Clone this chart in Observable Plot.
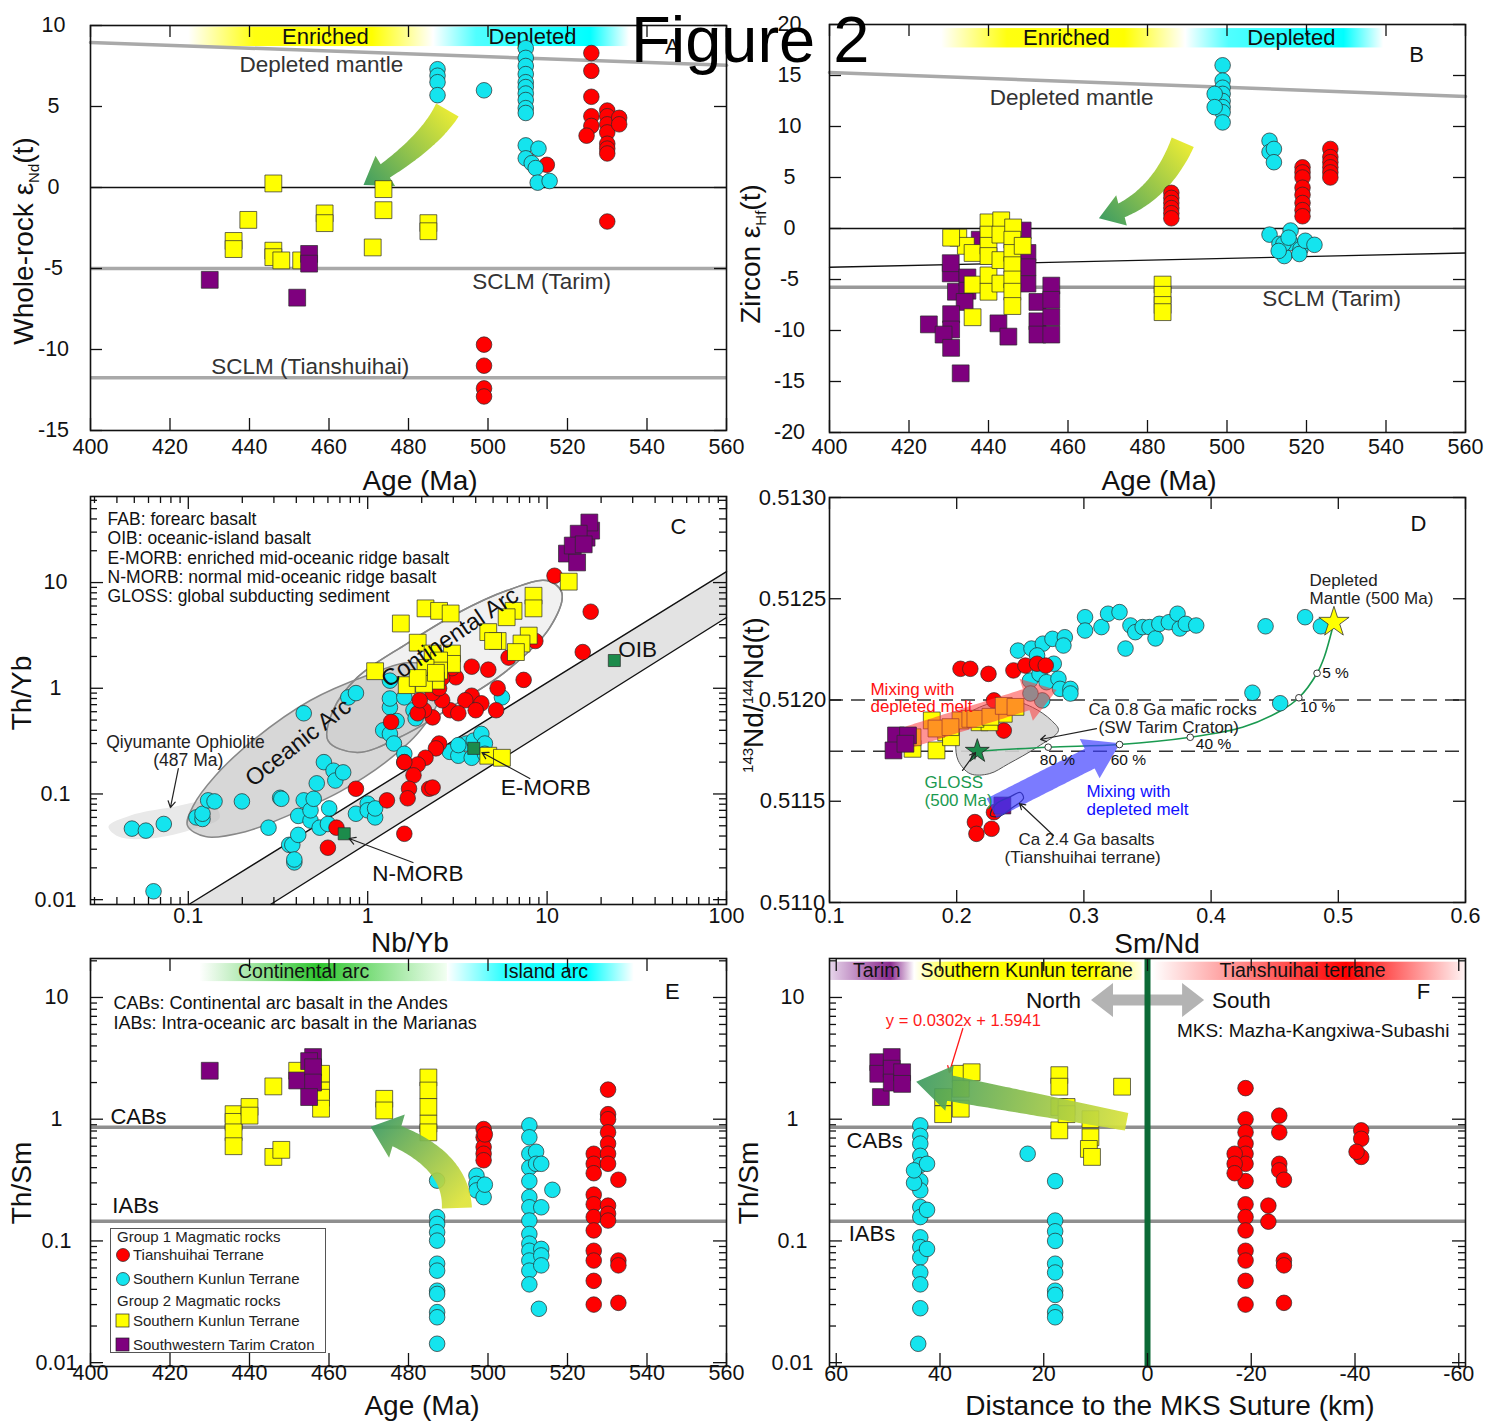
<!DOCTYPE html>
<html><head><meta charset="utf-8">
<script src="https://cdn.jsdelivr.net/npm/d3@7"></script>
<script src="https://cdn.jsdelivr.net/npm/@observablehq/plot@0.6"></script>
<style>
html,body{margin:0;padding:0;background:#fff;}
#fig{position:relative;width:1491px;height:1421px;overflow:hidden;background:#fff;font-family:"Liberation Sans",Arial,Helvetica,sans-serif;}
.panel{position:absolute;}
.panel svg{display:block;}
#overlay{position:absolute;left:0;top:0;pointer-events:none;}
#legendE{position:absolute;left:110px;top:1228px;width:214px;height:123px;border:1px solid #555;background:#fff;}
</style></head><body>
<svg width="0" height="0" style="position:absolute"><defs>
<linearGradient id="gEnr" x1="0" x2="1" y1="0" y2="0"><stop offset="0" stop-color="#ffffff"/><stop offset="0.27" stop-color="#ffff10"/><stop offset="0.75" stop-color="#ffff00"/><stop offset="1" stop-color="#ffffff"/></linearGradient>
<linearGradient id="gDep" x1="0" x2="1" y1="0" y2="0"><stop offset="0" stop-color="#ffffff"/><stop offset="0.22" stop-color="#50ffff"/><stop offset="0.8" stop-color="#00ffff"/><stop offset="1" stop-color="#ffffff"/></linearGradient>
<linearGradient id="gCont" x1="0" x2="1" y1="0" y2="0"><stop offset="0" stop-color="#ffffff"/><stop offset="0.48" stop-color="#2ec62e"/><stop offset="1" stop-color="#f2fff2"/></linearGradient>
<linearGradient id="gIsl" x1="0" x2="1" y1="0" y2="0"><stop offset="0" stop-color="#ffffff"/><stop offset="0.3" stop-color="#30ffff"/><stop offset="0.75" stop-color="#00ffff"/><stop offset="1" stop-color="#ffffff"/></linearGradient>
<linearGradient id="gTar" x1="0" x2="1" y1="0" y2="0"><stop offset="0" stop-color="#e8d8ec"/><stop offset="0.72" stop-color="#8a2a8e"/><stop offset="1" stop-color="#ffffff"/></linearGradient>
<linearGradient id="gSK" x1="0" x2="1" y1="0" y2="0"><stop offset="0" stop-color="#ffffff"/><stop offset="0.2" stop-color="#ffff00"/><stop offset="0.8" stop-color="#ffff00"/><stop offset="1" stop-color="#ffffe8"/></linearGradient>
<linearGradient id="gTian" x1="0" x2="1" y1="0" y2="0"><stop offset="0" stop-color="#ffffff"/><stop offset="0.62" stop-color="#ff0000"/><stop offset="1" stop-color="#fff4f4"/></linearGradient>
</defs></svg>
<div id="fig"></div>
<script>
const NS = "http://www.w3.org/2000/svg";
const CYAN="#14e4ee", RED="#ff0000", YEL="#ffff00", PUR="#7e007e", GRN="#1c8b4b", GREYLINE="#a9a9a9";
const FONT='"Liberation Sans", Arial, Helvetica, sans-serif';

// ================= PANEL A : Age vs whole-rock eNd(t) =================
const aXT=[400,420,440,460,480,500,520,540,560], aXL=["400","420","440","460","480","500","520","540","560"];
const aYT=[-15,-10,-5,0,5,10], aYL=["-15","-10","-5","0","5","10"];
const aCyan=[[487.3,7.3],[487.3,6.9],[487.3,6.5],[487.3,5.7],[499,6.0],
 [509.5,8.6],[509.5,8.0],[509.5,7.5],[509.5,7.0],[509.5,6.5],[509.5,6.2],[509.5,5.8],[509.5,5.4],[509.5,4.9],[509.5,4.6],
 [509.5,2.6],[512.7,2.4],[509.5,1.8],[511,1.5],[512,1.2],[512.5,0.3],[515.5,0.4]];
const aRed=[[526,8.3],[526,7.2],[526,5.6],[526,4.4],[526,3.8],[524.8,3.2],
 [530,4.75],[530,4.4],[530,3.9],[530,3.4],[530,2.7],[530,2.4],[530,2.1],[533,4.3],[533,3.9],
 [514.8,1.4],[530,-2.1],[499,-9.7],[499,-11.0],[499,-12.4],[499,-12.9]];
const aYellow=[[446,0.25],[473.7,-0.1],[473.7,-1.4],[439.7,-2.0],[458.9,-1.6],[458.9,-2.2],
 [436,-3.3],[436,-3.8],[446,-3.9],[446,-4.3],[448,-4.5],[453,-4.5],[471,-3.7],[485,-2.2],[485,-2.7]];
const aPurple=[[430,-5.7],[452,-6.8],[455,-4.1],[455,-4.7]];
const aDM=[[400,8.95],[560,7.55]];
const aGreyLevels=[-5.0,-11.75];
const aZero=[0];
const aBands=[[424.7,486.3,"gEnr"],[486.3,535.6,"gDep"]], aBandY=[8.7,9.9];
const aBandText=[["Enriched",459.1,9.3],["Depleted",511.2,9.3]];
const aLabels=[["Depleted mantle",458.1,7.6],["SCLM (Tarim)",513.5,-5.8],["SCLM (Tianshuihai)",455.3,-11.05]];
const aLetter=[["A",546.4,8.7]];
const aArrow={from:[489.9,4.75],via:[484.8,2.53],to:[468.8,0.12],w0:26,w1:16,head:36,hl:26,c0:"#e6ea36",c1:"#3f9d62"};

// ================= PANEL B : Age vs zircon eHf(t) =================
const bYT=[-20,-15,-10,-5,0,5,10,15,20], bYL=["-20","-15","-10","-5","0","5","10","15","20"];
const bCyan=[[498.9,16.0],[498.9,14.5],[498.9,13.8],[498.9,13.2],[498.9,12.5],[498.9,11.9],[498.9,11.4],[498.9,10.4],[496.9,13.2],[496.9,11.9],
 [510.7,8.6],[510.7,7.5],[511.8,7.8],[511.8,6.5],
 [510.7,-0.6],[513.2,-1.5],[514.4,-2.7],[516,-0.2],[516,-1.4],[518.5,-2.0],[518.2,-2.5],[519.7,-1.2],[522,-1.6],[514.2,-1.5],[513,-2.2],[515.5,-0.9]];
const bRed=[[486,3.5],[486,3.0],[486,2.5],[486,2.0],[486,1.5],[486,1.0],
 [519,6.0],[519,5.5],[519,5.0],[519,4.0],[519,3.3],[519,2.5],[519,1.8],[519,1.2],
 [526,7.8],[526,7.0],[526,6.5],[526,6.0],[526,5.5],[526,5.0]];
const bPurple=[[430.5,-4.4],[430.5,-3.4],[431.8,-6.2],[434.7,-4.8],[434.7,-6.1],[434,-7.2],[430.6,-8.4],[430.6,-9.9],[425,-9.4],[428.7,-10.4],[430.6,-11.7],[433,-14.2],
 [442.5,-9.3],[445,-10.6],[449.8,-2.4],[449.8,-5.4],[449.8,-3.8],[452.3,-7.2],[452.3,-9.1],[452.3,-10.4],[455.8,-5.6],[455.8,-7.0],[455.8,-8.7],[455.8,-10.4],[437.8,-1.1],[448.6,-0.2]];
const bYellow=[[483.8,-5.5],[483.8,-6.5],[483.8,-7.5],[483.8,-8.2],
 [432.4,-0.9],[434.3,-1.7],[436,-2.4],[436,-8.7],[436,-5.5],[440,0.6],[440,-0.6],[440,-1.7],[440,-2.7],[440,-4.6],[440,-6.2],
 [443.2,0.8],[443,-0.6],[443,-3.1],[443,-5.4],[446.2,0.1],[446,-1.1],[446,-2.4],[446,-3.6],[446,-5.0],[446,-6.2],[446,-7.6],[448.6,-1.7],[430.6,-0.9]];
const bDM=[[400,15.3],[560,12.95]];
const bTrend=[[400,-3.8],[560,-2.4]];
const bGreyLevels=[-5.75];
const bZero=[0];
const bBands=[[428.2,489.6,"gEnr"],[489.6,539.4,"gDep"]], bBandY=[17.7,19.6];
const bBandText=[["Enriched",459.6,18.65],["Depleted",516.2,18.65]];
const bLabels=[["Depleted mantle",460.9,12.84],["SCLM (Tarim)",526.3,-6.86]];
const bLetter=[["B",547.7,17.06]];
const bArrow={from:[489,8.4],via:[482.5,2.35],to:[467.9,0.95],w0:24,w1:15,head:32,hl:24,c0:"#e6ea36",c1:"#3f9d62"};

// ================= PANEL C : Nb/Yb vs Th/Yb =================
const cXT=[0.1,1,10,100], cXL=["0.1","1","10","100"];
const cYT=[0.01,0.1,1,10], cYL=["0.01","0.1","1","10"];
const cPurple=[[12.9,18.8],[14.7,15.5],[16.6,26.6],[17.6,31],[17.2,37],[15,29],[13.9,22.4],[16,23]];
const cRed=[[11.0,11.6],[17.5,5.3],[15.8,2.2],[8.6,2.8],[7.4,1.2],[6.1,1.95],[5.3,1.0],[4.7,1.5],[3.8,1.6],[3.1,1.27],[2.95,1.55],[3.8,0.85],[4.3,0.72],[3.5,0.77],
 [2.88,0.62],[3.2,0.58],[2.6,0.77],[2.3,0.9],[2.5,1.0],[2.6,1.25],[2.3,0.53],[2.06,0.62],[1.9,0.58],[1.95,0.77],[5.2,0.62],[4.0,0.62],[1.35,0.48],[2.5,0.30],
 [2.4,0.27],[2.1,0.22],[1.9,0.19],[1.6,0.2],[1.8,0.15],[2.2,0.112],[2.3,0.115],[1.7,0.112],[1.67,0.091],[1.28,0.087],[0.86,0.112],[1.6,0.042],[0.67,0.048],[0.6,0.031]];
const cYellow=[[13.2,10.2],[8.4,7.5],[8.4,5.7],[6.5,5.4],[5.95,4.7],[2.1,5.7],[2.5,5.4],[2.9,5.1],[1.53,4.1],[4.7,3.4],[5.3,2.8],[5.0,2.8],[7.9,3.15],[7.2,2.65],[6.7,2.2],
 [1.9,2.7],[2.95,2.13],[2.95,1.7],[2.3,2.13],[2.5,1.83],[2.5,1.47],[2.1,1.56],[2.4,1.18],[1.1,1.45],[1.65,1.07],[2.06,1.1],[2.4,1.4],[1.9,1.25],[4.7,0.23],[5.6,0.22]];
const cCyan=[[0.064,0.012],[0.0485,0.047],[0.058,0.045],[0.073,0.052],[0.111,0.06],[0.12,0.058],[0.12,0.065],[0.129,0.087],[0.14,0.085],[0.199,0.085],[0.325,0.092],[0.33,0.09],
 [0.28,0.048],[0.365,0.033],[0.38,0.033],[0.39,0.0225],[0.39,0.024],[0.41,0.041],[0.41,0.062],[0.44,0.087],[0.48,0.056],[0.48,0.07],[0.5,0.09],[0.52,0.126],[0.57,0.2],
 [0.44,0.58],[0.54,0.048],[0.6,0.052],[0.61,0.073],[0.645,0.166],[0.66,0.134],[0.73,0.16],[0.78,0.82],[0.86,0.9],[0.86,0.065],[1.0,0.081],[1.0,0.07],[1.1,0.06],[1.1,0.073],
 [1.33,0.66],[1.33,0.8],[1.33,1.18],[1.45,0.49],[1.6,0.82],[1.8,0.62],[1.85,0.52],[1.22,0.4],[1.33,0.37],[1.4,0.3],[1.6,0.24],[1.6,0.2],
 [2.87,0.25],[3.2,0.23],[3.55,0.3],[3.9,0.32],[4.3,0.37],[4.5,0.3],[3.8,0.22],[4.5,0.24],[3.2,0.29],[5.6,0.82]];
const cRef=[[0.74,0.042],[3.9,0.27],[23.7,1.83]]; // N-MORB, E-MORB, OIB
const cArrayPoly=[[0.1007,0.009],[100,12.7],[100,4.67],[0.287,0.009]];
const cArrayTop=[[0.1007,0.009],[100,12.7]], cArrayBot=[[0.287,0.009],[100,4.67]];
const cOceanic=[[0.0989,0.0502],[0.1245,0.0395],[0.208,0.044],[0.370,0.0638],[0.701,0.1054],[1.25,0.198],[1.96,0.398],[2.53,0.853],[2.43,1.47],[1.72,1.75],[0.99,1.32],[0.478,0.766],[0.236,0.334],[0.1416,0.149],[0.1067,0.0776]];
const cContinental=[[0.601,0.320],[0.873,0.2466],[1.656,0.3727],[3.14,0.717],[5.97,1.47],[10.35,3.75],[12.07,8.04],[9.95,10.44],[5.97,8.4],[3.14,5.1],[1.656,2.65],[0.873,1.26],[0.641,0.615]];
const cOphiolite=[[0.0359,0.0492],[0.0476,0.0625],[0.0795,0.0743],[0.1327,0.083],[0.15,0.06],[0.1094,0.0471],[0.0615,0.0379],[0.0408,0.0395]];
const cNotes=["FAB: forearc basalt","OIB: oceanic-island basalt","E-MORB: enriched mid-oceanic ridge basalt","N-MORB: normal mid-oceanic ridge basalt","GLOSS: global subducting sediment"];
const cNotesY=[39.4,26.1,16.9,11.1,7.38];
const cLabels=[["Qiyumante Ophiolite",0.0964,0.306],["(487 Ma)",0.1,0.207],["OIB",31.96,2.32],["E-MORB",9.83,0.115],["N-MORB",1.906,0.01766]];
const cRotLabels=[["Oceanic Arc",0.41,0.306,-38],["Continental Arc",2.87,3.02,-34]];
const cLetter=[["C",54.0,33.9]];
const cThinArrows=[[0.088,0.174,0.0795,0.0743],[8.01,0.14,4.33,0.2466],[1.788,0.02244,0.7875,0.0379]];

// ================= PANEL D : Sm/Nd vs 143Nd/144Nd(t) =================
const dXT=[0.1,0.2,0.3,0.4,0.5,0.6], dXL=["0.1","0.2","0.3","0.4","0.5","0.6"];
const dYT=[0.511,0.5115,0.512,0.5125,0.513], dYL=["0.5110","0.5115","0.5120","0.5125","0.5130"];
const dCyan=[[0.3009,0.512409],[0.3009,0.512343],[0.3138,0.512360],[0.3190,0.512426],[0.3280,0.512434],[0.3327,0.512254],[0.3366,0.512368],[0.3404,0.512335],
 [0.3462,0.512360],[0.3516,0.512360],[0.3563,0.512304],[0.3593,0.512376],[0.3668,0.512384],[0.3736,0.512426],[0.3754,0.512353],[0.3801,0.512376],[0.3883,0.512368],
 [0.4428,0.512364],[0.4739,0.512409],[0.4863,0.512364],[0.4325,0.512036],[0.4543,0.511984],[0.2482,0.512244],[0.2588,0.512254],[0.2677,0.512278],[0.2753,0.512302],
 [0.2850,0.512310],[0.2839,0.512269],[0.2632,0.512220],[0.2576,0.512096],[0.2651,0.512129],[0.2706,0.512088],[0.2800,0.512105],[0.2812,0.512055],[0.2894,0.512055],
 [0.2763,0.512179],[0.2894,0.512032],[0.2672,0.511998],[0.258,0.512032]];
const dRed=[[0.2030,0.512154],[0.2107,0.512154],[0.2250,0.512129],[0.2446,0.512146],[0.2540,0.512170],[0.2632,0.512179],[0.2700,0.512170],[0.2293,0.511998],[0.2370,0.511849],
 [0.2143,0.511397],[0.2155,0.511339],[0.2274,0.511364],[0.2293,0.511446]];
const dYellow=[[0.1653,0.511759],[0.1841,0.511751],[0.1804,0.511899],[0.1917,0.511841],[0.1955,0.511816],[0.2030,0.511899],[0.2107,0.511907],[0.2180,0.511890],
 [0.2258,0.511890],[0.2370,0.511932],[0.1653,0.511816],[0.1841,0.511859],[0.1951,0.511866],[0.2147,0.511907],[0.2265,0.511917],[0.2370,0.511971],[0.2462,0.511966]];
const dPurple=[[0.1523,0.511825],[0.1617,0.511825],[0.1503,0.511751],[0.1597,0.511784],[0.2359,0.511479]];
const dGloss=[[0.2162,0.511747]], dDMstar=[[0.4966,0.512384]];
const dCurve=[[0.2162,0.511747],[0.2719,0.511767],[0.3280,0.511780],[0.3836,0.511816],[0.4247,0.511865],[0.455,0.511948],[0.469,0.512011],[0.4833,0.512132],[0.4889,0.512211],[0.4966,0.512384]];
const dPct=[[0.2719,0.511767],[0.3280,0.511780],[0.3836,0.511816],[0.469,0.512011],[0.4833,0.512132]];
const dPctLabels=[["80 %",0.2792,0.511706],["60 %",0.335,0.511706],["40 %",0.4019,0.511785],["10 %",0.4837,0.511963],["5 %",0.4978,0.512131]];
const dDash=[0.512,0.511747];
const dField08=[[0.1993,0.511784],[0.2030,0.511899],[0.2179,0.511964],[0.2407,0.511998],[0.2595,0.511964],[0.2745,0.511899],[0.2800,0.511849],[0.2632,0.511767],[0.2407,0.511685],[0.2256,0.511636],[0.2106,0.511636],[0.2012,0.511701]];
const dField24=[[0.2266,0.511430],[0.2305,0.511484],[0.2423,0.511523],[0.2502,0.511543],[0.2525,0.511514],[0.2439,0.511469],[0.2329,0.511425]];
const dTextDark=[["Depleted",0.4774,0.51259],["Mantle (500 Ma)",0.4774,0.512501],["Ca 0.8 Ga mafic rocks",0.3036,0.511953],["(SW Tarim Craton)",0.3115,0.511864],["Ca 2.4 Ga basalts",0.2486,0.511311],["(Tianshuihai terrane)",0.2376,0.511222]];
const dTextRed=[["Mixing with",0.1322,0.512052],["depleted melt",0.1322,0.511968]];
const dTextBlue=[["Mixing with",0.302,0.511548],["depleted melt",0.302,0.511459]];
const dTextGreen=[["GLOSS",0.1747,0.511593],["(500 Ma)",0.1747,0.511504]];
const dLetter=[["D",0.563,0.512867]];
const dThinArrows=[[0.3099,0.511859,0.2659,0.511805],[0.2046,0.511652,0.2148,0.511741],[0.2761,0.511331,0.2494,0.511489]];
const dRedArrow={from:[0.158,0.511805],to:[0.279,0.512047],w0:22,w1:22,head:44,hl:32,fill:"#ff3c3c",opacity:0.55};
const dBlueArrow={from:[0.2279,0.511463],to:[0.3288,0.511784],w0:22,w1:22,head:44,hl:34,fill:"#3c3cff",opacity:0.68};

// ================= PANEL E : Age vs Th/Sm =================
const eYT=[0.01,0.1,1,10], eYL=["0.01","0.1","1","10"];
const eYellow=[[436,1.1],[436,0.95],[436,0.78],[436,0.6],[440,1.26],[440,1.07],[446,1.86],[446,0.49],[448,0.56],[458,2.36],[458,1.72],[458,1.5],[458,1.22],[452,2.5],
 [473.9,1.47],[473.9,1.18],[485,2.2],[485,1.72],[485,1.26],[485,0.92],[485,0.78]];
const ePurple=[[430,2.5],[452,2.08],[456,3.24],[455,3.0],[456,2.67],[456,2.0],[455,1.52]];
const eCyan=[[487.2,0.313],[487.2,0.157],[487.2,0.138],[487.2,0.118],[487.2,0.1006],[487.2,0.065],[487.2,0.057],[487.2,0.039],[487.2,0.0367],[487.2,0.026],[487.2,0.0236],[487.2,0.0143],
 [497.1,0.344],[497.1,0.294],[497.1,0.26],[498.9,0.229],[499.2,0.29],
 [510.4,0.89],[510.4,0.71],[510.4,0.52],[510.4,0.40],[510.4,0.31],[510.4,0.229],[510.4,0.189],[510.4,0.147],[510.4,0.114],[510.4,0.095],[510.4,0.083],[510.4,0.069],[510.4,0.057],[510.4,0.044],
 [512.1,0.54],[512.1,0.43],[513.4,0.189],[513.4,0.086],[513.4,0.076],[513.4,0.063],[513.4,0.43],[516.2,0.263],[512.8,0.0277]];
const eRed=[[498.9,0.83],[498.9,0.71],[498.9,0.59],[498.9,0.52],[498.9,0.46],[499.2,0.75],
 [526.6,0.52],[526.6,0.43],[526.6,0.36],[526.6,0.24],[526.6,0.20],[526.6,0.157],[526.6,0.122],[526.6,0.083],[526.6,0.069],[526.6,0.047],[526.6,0.030],
 [530.2,1.75],[530.2,1.1],[530.2,1.0],[530.2,0.78],[530.2,0.63],[530.2,0.52],[530.2,0.43],[530.2,0.195],[530.2,0.167],[530.2,0.147],
 [532.8,0.318],[532.8,0.069],[532.8,0.063],[532.8,0.031]];
const eGreyLevels=[0.86,0.145];
const eBands=[[427.5,489.8,"gCont"],[489.8,536.8,"gIsl"]], eBandY=[13.5,19.0];
const eBandText=[["Continental arc",453.6,16.3],["Island arc",514.5,16.3]];
const eNotes=[["CABs: Continental arc basalt in the Andes",405.8,8.93],["IABs: Intra-oceanic arc basalt in the Marianas",405.8,6.1]];
const eLevelText=[["CABs",405,1.05],["IABs",405.5,0.192]];
const eLetter=[["E",546.4,11.0]];
const eArrow={from:[492.3,0.1846],via:[492.1,0.527],to:[470.6,0.86],w0:30,w1:22,head:46,hl:28,c0:"#dfe438",c1:"#3c9a60",opacity:0.92};
const legendRows=[["Group 1 Magmatic rocks",null,null],["Tianshuihai Terrane","circle",RED],["Southern Kunlun Terrane","circle",CYAN],["Group 2 Magmatic rocks",null,null],["Southern Kunlun Terrane","square",YEL],["Southwestern Tarim Craton","square",PUR]];

// ================= PANEL F : distance vs Th/Sm =================
const fXT=[60,40,20,0,-20,-40,-60], fXL=["60","40","20","0","-20","-40","-60"];
const fPurple=[[51.4,1.52],[51.9,2.94],[51.9,2.36],[49.3,3.24],[49.3,2.6],[49.3,2.0],[47.3,2.43],[47.3,1.95]];
const fYellow=[[39.4,1.52],[39.4,1.1],[36.0,2.36],[36.0,1.78],[36.0,1.22],[33.9,2.43],[17.0,2.3],[17.0,1.85],[17.0,1.26],[17.0,0.81],[15.6,1.26],[15.6,1.1],
 [11.0,1.0],[11.0,0.71],[11.3,0.57],[10.7,0.49],[4.9,1.85]];
const fCyan=[[43.8,0.89],[43.8,0.73],[43.8,0.63],[43.8,0.50],[43.8,0.42],[43.8,0.31],[43.8,0.26],[43.8,0.19],[43.8,0.157],[43.8,0.107],[43.8,0.089],[43.8,0.073],[43.8,0.055],
 [43.8,0.044],[43.8,0.028],[44.2,0.0143],[45.0,0.30],[45.0,0.38],[42.5,0.43],[42.5,0.18],[42.5,0.086],[23.1,0.52],[17.8,0.31],[17.8,0.147],[17.8,0.12],[17.8,0.1],
 [17.8,0.065],[17.8,0.055],[17.8,0.039],[17.8,0.036],[17.8,0.026],[17.8,0.0236]];
const fRed=[[-18.9,1.8],[-18.9,1.0],[-18.9,0.78],[-18.9,0.63],[-18.9,0.52],[-18.9,0.43],[-18.9,0.31],[-18.9,0.20],[-18.9,0.157],[-18.9,0.122],[-18.9,0.083],[-18.9,0.069],
 [-18.9,0.047],[-18.9,0.030],[-16.8,0.52],[-16.8,0.43],[-16.8,0.36],[-23.3,0.195],[-23.3,0.144],[-25.4,1.07],[-25.4,0.78],[-25.4,0.43],[-25.4,0.38],
 [-26.3,0.318],[-26.3,0.069],[-26.3,0.063],[-26.3,0.031],[-41.2,0.81],[-41.2,0.69],[-41.2,0.49],[-40.3,0.54]];
const fSuture=[0];
const fBands=[[61.3,44.9,"gTar"],[44.9,1.0,"gSK"],[-1.0,-61.3,"gTian"]], fBandY=[13.8,19.5];
const fBandText=[["Tarim",52.2,16.6],["Southern Kunlun terrane",23.3,16.6],["Tianshuihai terrane",-29.9,16.6]];
const fDirText=[["North",18.1,9.45],["South",-18.1,9.45]];
const fMKS=[["MKS: Mazha-Kangxiwa-Subashi",-58.2,5.36]];
const fLetter=[["F",-53.2,11.0]];
const fLevelText=[["CABs",58,0.668],["IABs",57.6,0.115]];
const fEquation=[["y = 0.0302x + 1.5941",35.5,6.47]];
const fRedArrow=[[35.6,5.56,38.2,2.42]];
const fArrow={from:[3.93,0.944],to:[44.5,2.01],w0:18,w1:26,head:46,hl:34,c0:"#d8e23a",c1:"#3c9a60",opacity:0.92};
const fDouble=[{from:[0,9.45],to:[10.8,9.45],w0:11,w1:11,head:34,hl:22,fill:"#b3b3b3"},{from:[0,9.45],to:[-11,9.45],w0:11,w1:11,head:34,hl:22,fill:"#b3b3b3"}];

// ================= helpers =================
const fig=document.getElementById("fig");
const M={l:80,r:20,t:20,b:40};
let gid=0;
const X=d=>d[0], Y=d=>d[1];
const circ=(data,fill,r=7.8)=>Plot.dot(data,{x:X,y:Y,r,fill,stroke:"#2a2a2a",strokeWidth:0.7});
const sq=(data,fill,r=9.5)=>Plot.dot(data,{x:X,y:Y,r,symbol:"square",fill,stroke:"#2a2a2a",strokeWidth:0.7});
function logMinor(lo,hi){const out=[];for(let e=-3;e<=2;e++)for(let k=2;k<=9;k++){const v=k*Math.pow(10,e);if(v>lo*1.0001&&v<hi*0.9999)out.push(v);}return out;}
function ticks(xMaj,xMin,yMaj,yMin,W,H,L=12,l=6){
  const st={stroke:"#111",strokeWidth:1.3};
  const m=[];
  if(xMaj){m.push(Plot.ruleX(xMaj,{x:d=>d,insetTop:H-L,...st}),Plot.ruleX(xMaj,{x:d=>d,insetBottom:H-L,...st}));}
  if(xMin){m.push(Plot.ruleX(xMin,{x:d=>d,insetTop:H-l,...st}),Plot.ruleX(xMin,{x:d=>d,insetBottom:H-l,...st}));}
  if(yMaj){m.push(Plot.ruleY(yMaj,{y:d=>d,insetRight:W-L,...st}),Plot.ruleY(yMaj,{y:d=>d,insetLeft:W-L,...st}));}
  if(yMin){m.push(Plot.ruleY(yMin,{y:d=>d,insetRight:W-l,...st}),Plot.ruleY(yMin,{y:d=>d,insetLeft:W-l,...st}));}
  return m;
}
const xLabels=(v,t,dy,fs=21.5)=>Plot.text(v,{x:d=>d,frameAnchor:"bottom",dy,text:(d,i)=>t[i],fontSize:fs,fill:"#111"});
const yLabels=(v,t,dx,fs=21.5)=>Plot.text(v,{y:d=>d,frameAnchor:"left",dx,text:(d,i)=>t[i],textAnchor:"middle",fontSize:fs,fill:"#111"});
const labels=(arr,opts)=>Plot.text(arr,{x:d=>d[1],y:d=>d[2],text:d=>d[0],...opts});
const thin=(arr,opts)=>Plot.arrow(arr,{x1:d=>d[0],y1:d=>d[1],x2:d=>d[2],y2:d=>d[3],stroke:"#222",strokeWidth:1.2,headLength:9,...opts});
const poly=(arr,opts)=>Plot.line(arr,{x:X,y:Y,...opts});

function bands(list,yr){
  return (index,scales)=>{
    const g=document.createElementNS(NS,"g");
    for(const b of list){
      const xa=scales.x(b[0]), xb=scales.x(b[1]), ya=scales.y(yr[0]), yb=scales.y(yr[1]);
      const r=document.createElementNS(NS,"rect");
      r.setAttribute("x",Math.min(xa,xb));r.setAttribute("width",Math.abs(xb-xa));
      r.setAttribute("y",Math.min(ya,yb));r.setAttribute("height",Math.abs(yb-ya));
      r.setAttribute("fill",`url(#${b[2]})`);
      g.appendChild(r);
    }
    return g;
  };
}
function fatArrows(list){
  return (index,scales)=>{
    const g=document.createElementNS(NS,"g");
    const defs=document.createElementNS(NS,"defs");g.appendChild(defs);
    for(const a of list){
      const sx=scales.x, sy=scales.y;
      const P0=[sx(a.from[0]),sy(a.from[1])], P2=[sx(a.to[0]),sy(a.to[1])];
      const C=a.via?[sx(a.via[0]),sy(a.via[1])]:[(P0[0]+P2[0])/2,(P0[1]+P2[1])/2];
      const N=60, pts=[], cum=[0];
      for(let i=0;i<=N;i++){const t=i/N,u=1-t;pts.push([u*u*P0[0]+2*u*t*C[0]+t*t*P2[0],u*u*P0[1]+2*u*t*C[1]+t*t*P2[1]]);if(i>0)cum.push(cum[i-1]+Math.hypot(pts[i][0]-pts[i-1][0],pts[i][1]-pts[i-1][1]));}
      const cut=cum[N]-a.hl; const shaft=[]; let j=0;
      while(j<=N&&cum[j]<=cut){shaft.push(pts[j]);j++;}
      const f=(cut-cum[j-1])/(cum[j]-cum[j-1]);
      const base=[pts[j-1][0]+f*(pts[j][0]-pts[j-1][0]),pts[j-1][1]+f*(pts[j][1]-pts[j-1][1])];
      shaft.push(base);
      const n=shaft.length,left=[],right=[];
      for(let i=0;i<n;i++){
        const p=shaft[i],q=shaft[Math.min(i+1,n-1)],r=shaft[Math.max(i-1,0)];
        let dx=q[0]-r[0],dy=q[1]-r[1];const d=Math.hypot(dx,dy)||1;dx/=d;dy/=d;
        const w=(a.w0+(a.w1-a.w0)*i/(n-1))/2;
        left.push([p[0]-dy*w,p[1]+dx*w]);right.push([p[0]+dy*w,p[1]-dx*w]);
      }
      let hx=P2[0]-base[0],hy=P2[1]-base[1];const hd=Math.hypot(hx,hy)||1;hx/=hd;hy/=hd;
      const hw=a.head/2;
      const hL=[base[0]-hy*hw,base[1]+hx*hw],hR=[base[0]+hy*hw,base[1]-hx*hw];
      const ring=[...left,hL,P2,hR,...right.reverse()];
      const path=document.createElementNS(NS,"path");
      path.setAttribute("d","M"+ring.map(p=>p[0].toFixed(1)+","+p[1].toFixed(1)).join("L")+"Z");
      let fill=a.fill;
      if(a.c0){
        const id="fa"+(gid++);
        const lg=document.createElementNS(NS,"linearGradient");
        lg.setAttribute("id",id);lg.setAttribute("gradientUnits","userSpaceOnUse");
        lg.setAttribute("x1",P0[0]);lg.setAttribute("y1",P0[1]);lg.setAttribute("x2",P2[0]);lg.setAttribute("y2",P2[1]);
        [[0,a.c0],[1,a.c1]].forEach(([o,c])=>{const s=document.createElementNS(NS,"stop");s.setAttribute("offset",o);s.setAttribute("stop-color",c);lg.appendChild(s);});
        defs.appendChild(lg);fill=`url(#${id})`;
      }
      path.setAttribute("fill",fill);
      if(a.opacity!=null)path.setAttribute("fill-opacity",a.opacity);
      g.appendChild(path);
    }
    return g;
  };
}
function panel(frame,xs,ys,build){
  const [L,T,R,B]=frame;const W=R-L,H=B-T;
  const svg=Plot.plot({
    width:M.l+W+M.r,height:M.t+H+M.b,
    marginLeft:M.l,marginRight:M.r,marginTop:M.t,marginBottom:M.b,
    x:{...xs,axis:null},y:{...ys,axis:null},
    style:{fontFamily:FONT,fontSize:"21px",background:"transparent",overflow:"visible",maxWidth:"none",color:"#111"},
    marks:build(W,H)
  });
  const div=document.createElement("div");
  div.className="panel";div.style.left=(L-M.l)+"px";div.style.top=(T-M.t)+"px";
  div.appendChild(svg);fig.appendChild(div);
}
const frame=()=>Plot.frame({stroke:"#111",strokeWidth:1.6});

// ---------- A ----------
panel([90,25,726,430],{domain:[400,560]},{domain:[-15,10]},(W,H)=>[
  bands(aBands,aBandY),
  labels(aBandText,{fontSize:22,fill:"#111"}),
  Plot.line(aDM,{x:X,y:Y,stroke:GREYLINE,strokeWidth:3.5}),
  Plot.ruleY(aGreyLevels,{y:d=>d,stroke:GREYLINE,strokeWidth:3.5}),
  Plot.ruleY(aZero,{y:d=>d,stroke:"#111",strokeWidth:1.4}),
  labels(aLabels,{fontSize:22.5,fill:"#333"}),
  labels(aLetter,{fontSize:22,fill:"#111"}),
  fatArrows([aArrow]),
  sq(aYellow,YEL),sq(aPurple,PUR),circ(aRed,RED),circ(aCyan,CYAN),
  ...ticks(aXT,null,aYT,null,W,H),
  xLabels(aXT,aXL,23),yLabels(aYT,aYL,-37),
  frame()
]);

// ---------- B ----------
panel([829,24,1465,432],{domain:[400,560]},{domain:[-20,20]},(W,H)=>[
  bands(bBands,bBandY),
  labels(bBandText,{fontSize:22,fill:"#111"}),
  Plot.line(bDM,{x:X,y:Y,stroke:GREYLINE,strokeWidth:3.5}),
  Plot.ruleY(bGreyLevels,{y:d=>d,stroke:"#999",strokeWidth:3.5}),
  Plot.ruleY(bZero,{y:d=>d,stroke:"#111",strokeWidth:1.4}),
  Plot.line(bTrend,{x:X,y:Y,stroke:"#111",strokeWidth:1.3}),
  labels(bLabels,{fontSize:22.5,fill:"#333"}),
  labels(bLetter,{fontSize:22,fill:"#111"}),
  fatArrows([bArrow]),
  circ(bRed,RED),circ(bCyan,CYAN),sq(bPurple,PUR),sq(bYellow,YEL),
  ...ticks(aXT,null,bYT,null,W,H),
  xLabels(aXT,aXL,21),yLabels(bYT,bYL,-40),
  frame()
]);

// ---------- C ----------
panel([90,496,726,904],{type:"log",domain:[0.0285,100]},{type:"log",domain:[0.009,65.2]},(W,H)=>[
  poly(cOphiolite,{curve:"catmull-rom-closed",fill:"#e9e9e9",stroke:"none"}),
  poly(cArrayPoly,{curve:"linear-closed",fill:"#e3e3e3",stroke:"none"}),
  Plot.line(cArrayTop,{x:X,y:Y,stroke:"#111",strokeWidth:1.4}),
  Plot.line(cArrayBot,{x:X,y:Y,stroke:"#111",strokeWidth:1.4}),
  poly(cContinental,{curve:"catmull-rom-closed",fill:"#f1f1f1",stroke:"#888",strokeWidth:1.5}),
  poly(cOceanic,{curve:"catmull-rom-closed",fill:"#bdbdbd",fillOpacity:0.6,stroke:"#888",strokeWidth:1.5}),
  poly(cContinental,{curve:"catmull-rom-closed",fill:"none",stroke:"#888",strokeWidth:1.5}),
  Plot.text(cNotes,{x:()=>0.0355,y:(d,i)=>cNotesY[i],text:d=>d,textAnchor:"start",fontSize:17.5,fill:"#111"}),
  labels(cLetter,{fontSize:22,fill:"#111"}),
  labels(cLabels.slice(0,2),{fontSize:17.5,fill:"#222"}),
  labels(cLabels.slice(2),{fontSize:22.5,fill:"#111"}),
  circ(cCyan,CYAN),circ(cRed,RED),sq(cYellow,YEL),sq(cPurple,PUR),
  sq(cRef,GRN,6.8),
  Plot.text(cRotLabels,{x:d=>d[1],y:d=>d[2],text:d=>d[0],rotate:d=>d[3],fontSize:23.5,fill:"#111"}),
  thin(cThinArrows,{}),
  ...ticks(cXT,logMinor(0.0285,100),cYT,logMinor(0.009,65.2),W,H,13,7),
  xLabels(cXT,cXL,18),yLabels(cYT,cYL,-35),
  frame()
]);

// ---------- D ----------
panel([829,497,1465,902],{domain:[0.1,0.6]},{domain:[0.511,0.513]},(W,H)=>[
  Plot.ruleY(dDash,{y:d=>d,stroke:"#333",strokeWidth:1.5,strokeDasharray:"14,8"}),
  poly(dField08,{curve:"catmull-rom-closed",fill:"#d4d4d4",fillOpacity:0.9,stroke:"#555",strokeWidth:1}),
  Plot.line(dCurve,{x:X,y:Y,curve:"catmull-rom",stroke:"#1a9a50",strokeWidth:1.6}),
  circ(dCyan,CYAN),circ(dRed,RED),sq(dYellow,YEL),
  fatArrows([dRedArrow]),
  sq(dPurple,PUR),
  poly(dField24,{curve:"catmull-rom-closed",fill:"none",stroke:"#223",strokeWidth:1.2}),
  fatArrows([dBlueArrow]),
  Plot.dot(dPct,{x:X,y:Y,r:3.3,fill:"white",stroke:"#333",strokeWidth:1}),
  Plot.dot(dGloss,{x:X,y:Y,symbol:"star",r:7.5,fill:GRN,stroke:"#222",strokeWidth:0.8}),
  Plot.dot(dDMstar,{x:X,y:Y,symbol:"star",r:9.5,fill:YEL,stroke:"#333",strokeWidth:0.8}),
  labels(dPctLabels,{fontSize:15.5,fill:"#111"}),
  labels(dTextDark,{textAnchor:"start",fontSize:17,fill:"#222"}),
  labels(dTextRed,{textAnchor:"start",fontSize:17,fill:"#ff1010"}),
  labels(dTextBlue,{textAnchor:"start",fontSize:17,fill:"#1010ff"}),
  labels(dTextGreen,{textAnchor:"start",fontSize:17,fill:"#1a9a50"}),
  labels(dLetter,{fontSize:22,fill:"#111"}),
  thin(dThinArrows,{headLength:8}),
  ...ticks(dXT,null,dYT,null,W,H),
  xLabels(dXT,dXL,20),yLabels(dYT,dYL,-37,22),
  frame()
]);

// ---------- E ----------
panel([90,958,726,1366],{domain:[400,560]},{type:"log",domain:[0.0093,20.9]},(W,H)=>[
  bands(eBands,eBandY),
  labels(eBandText,{fontSize:19.5,fill:"#111"}),
  Plot.ruleY(eGreyLevels,{y:d=>d,stroke:"#8f8f8f",strokeWidth:3.5}),
  labels(eNotes,{textAnchor:"start",fontSize:18,fill:"#111"}),
  labels(eLevelText,{textAnchor:"start",fontSize:22,fill:"#111"}),
  labels(eLetter,{fontSize:22,fill:"#111"}),
  sq(eYellow,YEL),sq(ePurple,PUR),circ(eCyan,CYAN),circ(eRed,RED),
  fatArrows([eArrow]),
  ...ticks(aXT,null,eYT,logMinor(0.0093,20.9),W,H,13,7),
  xLabels(aXT,aXL,13),yLabels(eYT,eYL,-34),
  frame()
]);

// ---------- F ----------
panel([829,958,1465,1366],{domain:[61.3,-61.3]},{type:"log",domain:[0.0093,20.9]},(W,H)=>[
  bands(fBands,fBandY),
  labels(fBandText,{fontSize:19.5,fill:"#111"}),
  Plot.ruleY(eGreyLevels,{y:d=>d,stroke:"#8f8f8f",strokeWidth:3.5}),
  fatArrows(fDouble),
  Plot.ruleX(fSuture,{x:d=>d,stroke:"#0c6a36",strokeWidth:6}),
  labels(fDirText,{fontSize:22.5,fill:"#111"}),
  labels(fMKS,{textAnchor:"end",fontSize:19,fill:"#111"}),
  labels(fLetter,{fontSize:22,fill:"#111"}),
  labels(fLevelText,{textAnchor:"start",fontSize:22,fill:"#111"}),
  labels(fEquation,{fontSize:16.5,fill:"#ff1a1a"}),
  thin(fRedArrow,{stroke:"#ff1a1a",strokeWidth:1.3,headLength:8}),
  circ(fCyan,CYAN),circ(fRed,RED),sq(fPurple,PUR),sq(fYellow,YEL),
  fatArrows([fArrow]),
  ...ticks(fXT,null,eYT,logMinor(0.0093,20.9),W,H,13,7),
  xLabels(fXT,fXL,14),yLabels(eYT,eYL,-37),
  frame()
]);

// ---------- legend for E ----------
(function(){
  const div=document.createElement("div");div.id="legendE";fig.appendChild(div);
  const s=d3.select(div).append("svg").attr("width",214).attr("height",123).style("font-family",FONT).style("display","block");
  const ys=[8,26,50,72,92,116];
  legendRows.forEach((r,i)=>{
    const y=ys[i];
    if(r[1]==="circle") s.append("circle").attr("cx",12).attr("cy",y).attr("r",6.5).attr("fill",r[2]).attr("stroke","#222").attr("stroke-width",0.7);
    if(r[1]==="square") s.append("rect").attr("x",5).attr("y",y-7).attr("width",13).attr("height",13).attr("fill",r[2]).attr("stroke","#222").attr("stroke-width",0.7);
    s.append("text").attr("x",r[1]?22:6).attr("y",y).attr("dy","0.36em").attr("font-size",15).attr("fill","#222").text(r[0]);
  });
})();

// ---------- overlay: axis titles and figure title ----------
(function(){
  const ov=d3.select(fig).append("svg").attr("id","overlay").attr("width",1491).attr("height",1421).style("font-family",FONT);
  const xt=[[420,490,"Age (Ma)"],[1159,490,"Age (Ma)"],[410,952,"Nb/Yb"],[1157,953,"Sm/Nd"],[422,1415,"Age (Ma)"],[1170,1415,"Distance to the MKS Suture (km)"]];
  xt.forEach(([x,y,t])=>ov.append("text").attr("x",x).attr("y",y).attr("text-anchor","middle").attr("font-size",28).attr("fill","#111").text(t));
  function ytitle(x,y,parts){
    const t=ov.append("text").attr("transform",`translate(${x},${y}) rotate(-90)`).attr("text-anchor","middle").attr("font-size",28).attr("fill","#111");
    parts.forEach(p=>{const s=t.append("tspan").text(p[0]);if(p[1])s.attr("dy",p[1]);if(p[2])s.attr("font-size",p[2]);});
  }
  ytitle(33,241,[["Whole-rock ε"],["Nd",6,15],["(t)",-6]]);
  ytitle(760,254,[["Zircon ε"],["Hf",6,15],["(t)",-6]]);
  ytitle(31,693,[["Th/Yb"]]);
  ytitle(763,695,[["143",-10,15],["Nd/",10],["144",-10,15],["Nd(t)",10]]);
  ytitle(31,1183,[["Th/Sm"]]);
  ytitle(758,1183,[["Th/Sm"]]);
  ov.append("text").attr("x",631).attr("y",62).attr("font-size",65).attr("fill","#000").text("Figure 2");
})();
</script>
</body></html>
